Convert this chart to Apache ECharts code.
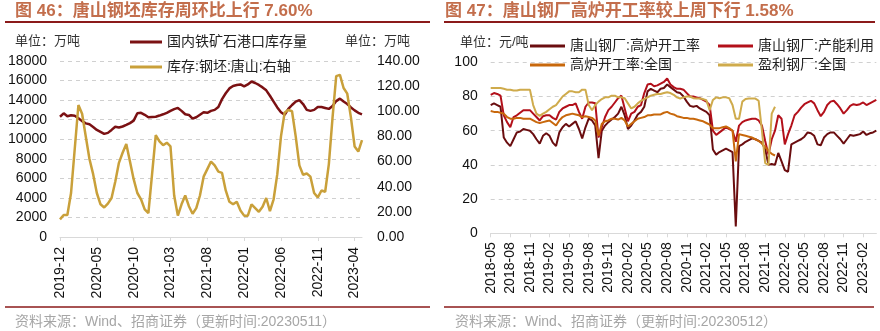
<!DOCTYPE html>
<html><head><meta charset="utf-8">
<script src="https://cdn.jsdelivr.net/npm/echarts@6/dist/echarts.min.js"></script>
<style>html,body{margin:0;padding:0;background:#fff;}#c{width:880px;height:331px;}</style>
</head><body><div id="c"></div>
<script>
// ---------- DATA ----------
// Left chart: semi-monthly samples starting 2019-12
const leftStartYear = 2019, leftStartMonth = 12, leftCount = 83;
// Right chart: semi-monthly samples starting 2018-05
const rightStartYear = 2018, rightStartMonth = 5, rightCount = 119;

const portStock = [12300,12650,12350,12450,12400,12140,11850,11620,11530,11250,
10950,10750,10550,10650,10950,11280,11200,11300,11460,11650,
11900,12650,12700,12500,12250,12280,12300,12420,12550,12700,
12900,13080,13200,12900,12550,12480,12100,12250,12500,12750,
12700,12900,13000,13300,14100,14700,15200,15450,15550,15600,
15400,15600,15900,15750,15550,15300,15000,14450,13850,13250,
12750,12500,13100,13500,13850,14000,13600,13000,12900,13000,
13300,13300,13200,13100,13400,13900,14150,13850,13600,13250,
12950,12700,12550];

const billetStock = [14,17.5,17.5,35,70,105,98,80,62,50,
35,26,23.5,26.5,31,44,59,67,74,60,
46,35,30,22,19,50,81,76,73,75,
72,33,17,26,33,24.5,18.5,23,33,48,
54,60,57,52,51,37,28,26,28,21,
17,17,26,23,20,24,31,20.5,30,50,
80,99,101,100,80,57,49.5,50.5,48,35,
31.5,37,36,58,95,128,129,118.5,114,95,
72,68,77];

const tsBfRate = [75,76,75,74,56,53,51,55,59,59.5,
61,60.5,60,58,55,52.5,57,58.5,57,53,
51,59,62,64,62.5,64,65.5,61,55.5,62,
67,66,63,44,60,63,65,66.5,68,70,
74,69,61,63,66,69.5,71,74,83,84.5,
83.5,82.5,84.5,85,87,85.5,84,82.5,82,80,
77,74.5,74,74.5,73,72,71,69,49,46,
47.5,48.5,49.5,48.5,47.5,4,51,52,53.5,54.5,
55.5,55,54,53,49,40,40.5,40,47,42,
37,36,52,53,54,55,56.5,59,58.5,57,
52,51.5,56,58,59,59,57,55,52.5,55,
57.5,57,57.5,58,59.5,57.5,58.5,59,60];

const tsCapUtil = [81,82,81.5,80.5,69,65,62,68,69,70.5,
72,72,72,70,68,66,68.5,69,69,67.5,
66.5,71,73,74,75,75,76,71,67,74,
76.5,76.5,76,56,62,68,72,74,76.5,79,
80.5,73,65.5,70,71,74,75,82,87,87.5,
86,86.5,87.5,88.5,90.5,87,85.5,84.5,84.5,84,
82,80,80,79.5,79,78,77,75,60,57.5,
59,60.5,62,61,60,53.5,63,65,66,66.5,
67,67,66,63,54,46,55,60,69,67,
52,58,63,69,71,73.5,75.5,76.5,77.5,76,
72,68.5,71,75,77,77.5,75.5,73,70,72,
74.5,75.5,75,75.5,76.5,75,76,77,78];

const nationalBfRate = [71.5,71,71,70.5,70,68,67,67,67.5,67.5,
67,67,67,66,65,64.5,65,65.5,66,64.5,
63,66,68,69,69.5,70,69.5,69,68,68.5,
68,67.5,66,57,64,65.5,66,67,67,66.5,
67.5,66,62.5,64,65.5,67,67.5,68,69,69,
69.5,69.5,69.5,70.5,71,70,69.5,68.5,68,67.5,
67.5,67,67,66.5,66,65.5,64.5,63.5,61.5,61.5,
61.5,62,62.5,61.5,60,42,58,57.5,57,56.5,
56,55,54,52.5,50.5,48,46.5,45.5];

const profitMills = [85,85,85,85,84.5,84,84,83.5,83.5,84,
84,84,84,75,70,68.7,70,71,72.5,74,
75,77.5,80,81.5,83,83,82.5,82.5,84,84,
75,72,75,77,78.5,79.5,79.5,80.5,80.5,79.5,
79.5,79,76,73,74,76,77.5,78.5,79.5,80.5,
81,81.5,81.5,82,82.5,82,81,79.5,78.8,79.5,
80,80,79,78.8,78.8,78.5,77.8,72,78,79.5,
79,79.5,79.5,79,75,67,67,77,78.5,78.8,
78.8,78.8,77.5,60,41,40,70,74];

const leftNames = ['国内铁矿石港口库存量', '库存:钢坯:唐山:右轴'];
const rightNames = ['唐山钢厂:高炉开工率', '唐山钢厂:产能利用', '高炉开工率:全国', '盈利钢厂:全国'];

function halfMonthDates(y, m, n) {
  const out = [];
  for (let i = 0; i < n; i++) {
    const mm = m - 1 + Math.floor(i / 2);
    const yy = y + Math.floor(mm / 12);
    const mo = (mm % 12) + 1;
    out.push(yy + '-' + String(mo).padStart(2, '0') + (i % 2 ? '-16' : '-01'));
  }
  return out;
}
const leftDates = halfMonthDates(leftStartYear, leftStartMonth, leftCount);
const rightDates = halfMonthDates(rightStartYear, rightStartMonth, rightCount);

// ---------- STYLE ----------
const FONT = "'Liberation Sans', Arial, 'Noto Sans CJK SC', sans-serif";
const TITLE_COLOR = '#c36e4c';
const RULE_COLOR = '#8b1a1a';
const GRID_LINE = {show: true, lineStyle: {color: '#d0d0d0', type: [4, 4], width: 1}};
const AXIS_GRAY = '#d9d9d9';
const labelStyle = {fontSize: 14, color: '#111', fontFamily: FONT};

const chart = echarts.init(document.getElementById('c'), null, {renderer: 'canvas'});

function txt(left, top, text, size, color, bold) {
  return {type: 'text', left: left, top: top, silent: true,
    style: {text: text, fill: color, font: (bold ? 'bold ' : '') + size + 'px ' + FONT}};
}
function rule(x1, x2, y, w) {
  return {type: 'line', silent: true, shape: {x1: x1, y1: y, x2: x2, y2: y},
    style: {stroke: RULE_COLOR, lineWidth: w}};
}

const option = {
  animation: false,
  backgroundColor: '#fff',
  graphic: [
    txt(15, 3, '图 46：唐山钢坯库存周环比上行 7.60%', 17, TITLE_COLOR, true),
    txt(445, 3, '图 47：唐山钢厂高炉开工率较上周下行 1.58%', 17, TITLE_COLOR, true),
    rule(5, 430, 22, 2),
    rule(444, 875, 22, 2),
    txt(15, 35, '单位：万吨', 13, '#333', false),
    txt(345, 35, '单位：万吨', 13, '#333', false),
    txt(460, 36, '单位：元/吨', 13, '#333', false),
    rule(5, 430, 307, 1.5),
    rule(444, 874, 307, 1.5),
    txt(15, 315, '资料来源：Wind、招商证券（更新时间:20230511）', 14, '#a6a6a6', false),
    txt(455, 315, '资料来源：Wind、招商证券（更新时间:20230512）', 14, '#a6a6a6', false)
  ],
  legend: [
    {data: leftNames, orient: 'vertical', left: 125, top: 30, icon: 'rect',
     itemWidth: 32, itemHeight: 3, itemGap: 11, textStyle: {fontSize: 14, color: '#222', fontFamily: FONT}, selectedMode: false},
    {data: [rightNames[0], rightNames[2]], orient: 'vertical', left: 525, top: 34, icon: 'rect',
     itemWidth: 35, itemHeight: 3, itemGap: 5, textStyle: {fontSize: 14, color: '#222', fontFamily: FONT}, selectedMode: false},
    {data: [rightNames[1], rightNames[3]], orient: 'vertical', left: 713, top: 34, icon: 'rect',
     itemWidth: 35, itemHeight: 3, itemGap: 5, textStyle: {fontSize: 14, color: '#222', fontFamily: FONT}, selectedMode: false}
  ],
  grid: [
    {left: 60, top: 61, width: 302, height: 176, containLabel: false},
    {left: 490.7, top: 62.3, width: 385.6, height: 171, containLabel: false}
  ],
  xAxis: [
    {type: 'category', gridIndex: 0, data: leftDates, boundaryGap: false,
     axisLine: {lineStyle: {color: AXIS_GRAY, width: 1}},
     axisTick: {show: true, interval: (i) => i % 10 === 0, length: 4, lineStyle: {color: AXIS_GRAY}},
     axisLabel: Object.assign({interval: (i) => i % 10 === 0, rotate: 90, margin: 10,
       formatter: (v) => v.slice(0, 7)}, labelStyle),
     splitLine: {show: false}},
    {type: 'category', gridIndex: 1, data: rightDates, boundaryGap: false,
     axisLine: {lineStyle: {color: AXIS_GRAY, width: 1}},
     axisTick: {show: true, interval: (i) => i % 6 === 0, length: 4, lineStyle: {color: AXIS_GRAY}},
     axisLabel: Object.assign({interval: (i) => i % 6 === 0, rotate: 90, margin: 9,
       formatter: (v) => v.slice(0, 7)}, labelStyle),
     splitLine: {show: false}}
  ],
  yAxis: [
    {type: 'value', gridIndex: 0, min: 0, max: 18000, interval: 2000,
     axisLine: {show: false}, axisTick: {show: false},
     axisLabel: Object.assign({margin: 13, formatter: (v) => String(v)}, labelStyle), splitLine: GRID_LINE},
    {type: 'value', gridIndex: 0, position: 'right', min: 0, max: 140, interval: 20,
     axisLine: {show: false}, axisTick: {show: false},
     axisLabel: Object.assign({margin: 15, formatter: (v) => v.toFixed(2)}, labelStyle),
     splitLine: {show: false}},
    {type: 'value', gridIndex: 1, min: 0, max: 100, interval: 20,
     axisLine: {show: false}, axisTick: {show: false},
     axisLabel: Object.assign({margin: 13, formatter: (v) => String(v)}, labelStyle), splitLine: GRID_LINE}
  ],
  series: [
    {name: leftNames[0], type: 'line', xAxisIndex: 0, yAxisIndex: 0, data: portStock,
     symbol: 'none', color: '#7b1113', lineStyle: {width: 2.5, color: '#7b1113'}},
    {name: leftNames[1], type: 'line', xAxisIndex: 0, yAxisIndex: 1, data: billetStock,
     symbol: 'none', color: '#c9a03a', lineStyle: {width: 2.5, color: '#c9a03a'}},
    {name: rightNames[0], type: 'line', xAxisIndex: 1, yAxisIndex: 2, data: tsBfRate,
     symbol: 'none', color: '#6a0d0f', lineStyle: {width: 2, color: '#6a0d0f'}},
    {name: rightNames[1], type: 'line', xAxisIndex: 1, yAxisIndex: 2, data: tsCapUtil,
     symbol: 'none', color: '#b3101a', lineStyle: {width: 2, color: '#b3101a'}},
    {name: rightNames[2], type: 'line', xAxisIndex: 1, yAxisIndex: 2, data: nationalBfRate,
     symbol: 'none', color: '#c8680c', lineStyle: {width: 2, color: '#c8680c'}},
    {name: rightNames[3], type: 'line', xAxisIndex: 1, yAxisIndex: 2, data: profitMills,
     symbol: 'none', color: '#cfab4c', lineStyle: {width: 2, color: '#cfab4c'}}
  ]
};
chart.setOption(option);
</script>
</body></html>
